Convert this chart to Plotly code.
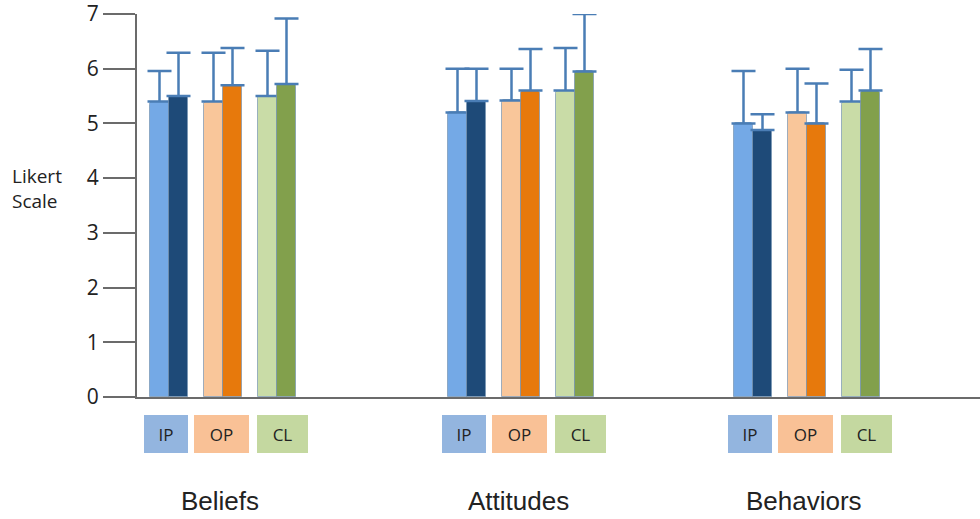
import plotly.graph_objects as go

# ---- data ----
groups = ["Beliefs", "Attitudes", "Behaviors"]
conditions = ["IP", "OP", "CL"]

# light (first) bar of each pair
ip_light = [5.40, 5.20, 5.00]
op_light = [5.40, 5.42, 5.20]
cl_light = [5.50, 5.60, 5.40]
# dark (second) bar of each pair
ip_dark = [5.50, 5.41, 4.88]
op_dark = [5.70, 5.60, 5.00]
cl_dark = [5.72, 5.95, 5.60]

# upper error (one-sided)
ip_light_err = [0.56, 0.80, 0.96]
op_light_err = [0.89, 0.58, 0.80]
cl_light_err = [0.83, 0.78, 0.58]
ip_dark_err = [0.79, 0.59, 0.29]
op_dark_err = [0.68, 0.76, 0.73]
cl_dark_err = [1.20, 1.05, 0.76]

y_ticks = [0, 1, 2, 3, 4, 5, 6, 7]

# ---- styling / layout constants ----
group_pos = [0.0, 2.98, 5.84]
pair_gap = 0.54
bar_w = 0.19
light_colors = ["#74a9e6", "#f9c69a", "#c9dca7"]
dark_colors = ["#1e4a78", "#e7790c", "#82a04c"]
box_colors = ["#93b5df", "#f9c196", "#c4d8a0"]
box_widths = [44, 55, 51]
box_shift = [-0.03, -0.02, 0.05]
err_color = "#4a7db5"

light_vals = [ip_light, op_light, cl_light]
dark_vals = [ip_dark, op_dark, cl_dark]
light_errs = [ip_light_err, op_light_err, cl_light_err]
dark_errs = [ip_dark_err, op_dark_err, cl_dark_err]

fig = go.Figure()

for c, cond in enumerate(conditions):
    centers = [g + (c - 1) * pair_gap for g in group_pos]
    for vals, errs, color, shift, name in [
        (light_vals[c], light_errs[c], light_colors[c], -bar_w / 2, cond + " (1)"),
        (dark_vals[c], dark_errs[c], dark_colors[c], bar_w / 2, cond + " (2)"),
    ]:
        fig.add_trace(go.Bar(
            x=[p + shift for p in centers],
            y=vals,
            width=bar_w,
            name=name,
            marker=dict(color=color, cornerradius=3,
                        line=dict(color="rgba(120,150,180,0.7)", width=1)),
            error_y=dict(type="data", symmetric=False, array=errs,
                         arrayminus=[0] * len(errs), color=err_color,
                         thickness=2.5, width=12),
            showlegend=False,
            cliponaxis=False,
        ))

annotations = [
    dict(text="Likert<br>Scale", xref="paper", yref="paper",
         x=-0.1507, y=0.545, xanchor="left", yanchor="middle", align="left",
         showarrow=False, font=dict(family="Open Sans", size=19, color="#222222")),
]
for g, gname in zip(group_pos, groups):
    annotations.append(dict(text=gname, xref="x", yref="paper", x=g - 0.03, y=-0.272,
                            xanchor="center", yanchor="middle", showarrow=False,
                            font=dict(family="Liberation Sans, Arial", size=26, color="#222222")))
    for c, cond in enumerate(conditions):
        annotations.append(dict(text=cond, xref="x", yref="paper",
                                x=g + (c - 1) * pair_gap + box_shift[c], y=-0.0966,
                                xanchor="center", yanchor="middle", showarrow=False,
                                width=box_widths[c], height=38, bgcolor=box_colors[c],
                                borderpad=0, borderwidth=0,
                                font=dict(family="Open Sans", size=17, color="#222222")))

fig.update_layout(
    width=980, height=519,
    margin=dict(l=137, r=0, t=14, b=122),
    plot_bgcolor="white", paper_bgcolor="white",
    barmode="overlay",
    bargap=0,
    xaxis=dict(range=[-0.86, 7.57], showgrid=False, zeroline=False,
               showticklabels=False, ticks="", showline=True,
               linecolor="#6b6b6b", linewidth=2, fixedrange=True),
    yaxis=dict(range=[0, 7], tickvals=y_ticks, showgrid=False, zeroline=False,
               showline=True, linecolor="#6b6b6b", linewidth=2,
               ticks="outside", ticklen=32, tickwidth=2, tickcolor="#6b6b6b",
               ticklabeloverflow="allow",
               tickfont=dict(family="Open Sans", size=21, color="#222222")),
    annotations=annotations,
)

fig.write_html("out.html", config={"displayModeBar": False},
               post_script="document.body.style.margin='0';")
